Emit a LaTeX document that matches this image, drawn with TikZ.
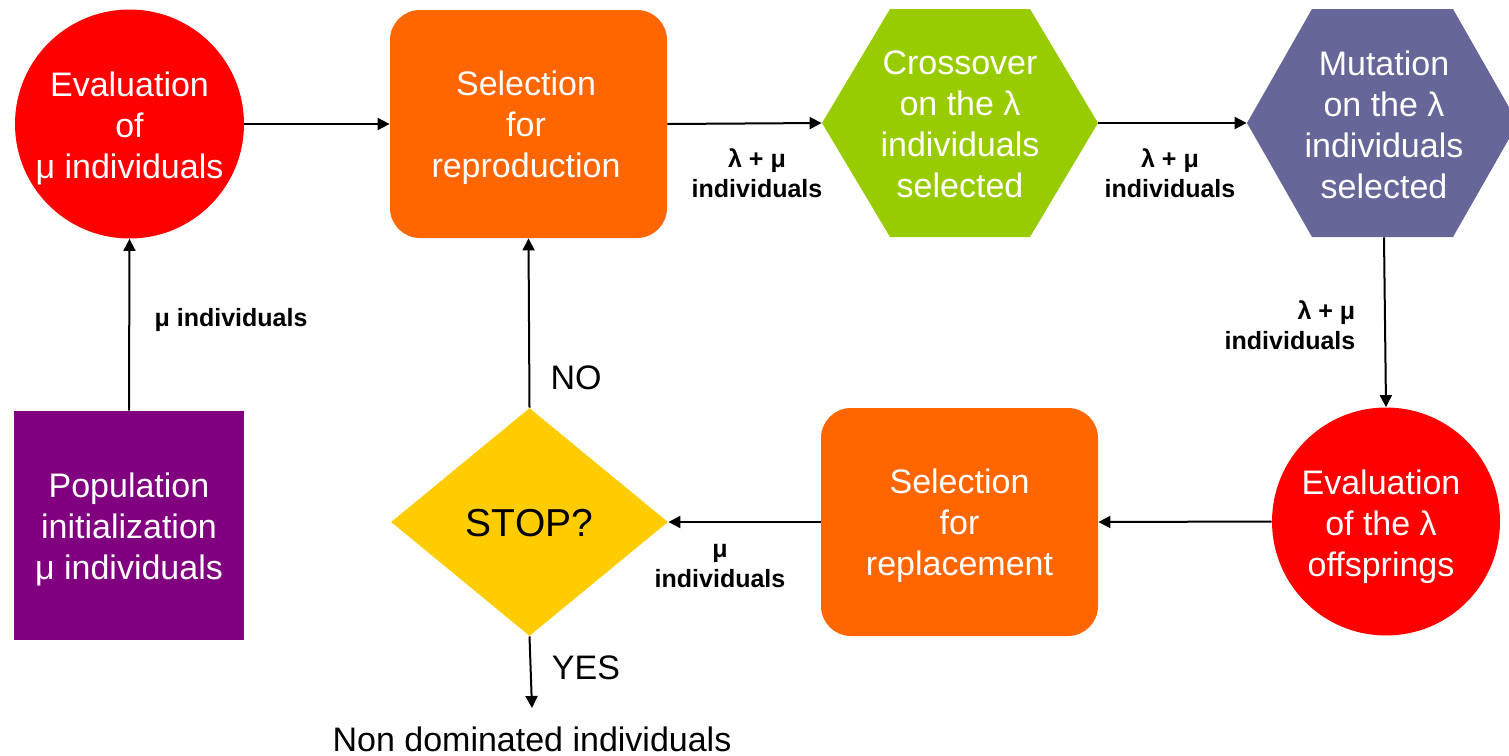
\documentclass[tikz,border=0pt]{standalone}
\usepackage{fontspec}
\setmainfont{Liberation Sans}
\usetikzlibrary{shapes.geometric,arrows.meta}
\definecolor{cred}{HTML}{FF0000}
\definecolor{corange}{HTML}{FF6600}
\definecolor{cgreen}{HTML}{99CC00}
\definecolor{cslate}{HTML}{666699}
\definecolor{cyellow}{HTML}{FFCC00}
\definecolor{cpurple}{HTML}{800080}
\tikzset{
  base/.style={text=white, font=\fontsize{17}{20.5}\selectfont, align=center, inner sep=0pt},
  txt/.style={base, yshift=-2pt},
  boxnode/.style={rectangle, minimum width=138.5pt, minimum height=114pt, rounded corners=15pt, fill=corange, inner sep=0pt},
  ghost/.style={rectangle, minimum width=138pt, minimum height=114pt, inner sep=0pt},
  lbl/.style={font=\bfseries\fontsize{12.5}{15}\selectfont, align=center, inner sep=0pt},
  plain/.style={font=\fontsize{17}{20.5}\selectfont, inner sep=0pt},
  arr/.style={-{Triangle[length=6pt,width=6pt]}, line width=1pt},
}
\begin{document}
\begin{tikzpicture}[x=0.5pt,y=-0.5pt]
\useasboundingbox (0,0) rectangle (1509,755);
% shapes
\node[circle, fill=cred, minimum size=114.5pt, inner sep=0pt] (eval1) at (129.5,124) {};
\node[txt] (t1) at (eval1) {Evaluation\\of\\μ individuals};
\node[boxnode] (sel1) at (528.5,124) {};
\node[txt] (t2) at (526,124) {Selection\\for\\reproduction};
\fill[cgreen] (822,123) -- (890,9) -- (1030,9) -- (1098,123) -- (1030,237) -- (890,237) -- cycle;
\node[ghost, minimum width=138pt] (cross) at (960,123) {};
\node[base] (t3) at (960,124.5) {Crossover\\on the λ\\individuals\\selected};
\fill[cslate] (1247,123) -- (1312,9) -- (1453,9) -- (1518,123) -- (1453,237) -- (1312,237) -- cycle;
\node[ghost, minimum width=137pt] (mut) at (1384,123) {};
\node[base] (t4) at (1384,124.5) {Mutation\\on the λ\\individuals\\selected};
\node[circle, fill=cred, minimum size=114pt, inner sep=0pt] (eval2) at (1386,521.5) {};
\node[txt] (t5) at (1381,522.5) {Evaluation\\of the λ\\offsprings};
\node[boxnode] (sel2) at (959.5,522) {};
\node[txt] (t6) at (sel2) {Selection\\for\\replacement};
\node[diamond, fill=cyellow, minimum width=138.5pt, minimum height=114pt, inner sep=0pt] (stop) at (529.5,522) {};
\node[plain, font=\fontsize{19.5}{23}\selectfont] (t7) at (529.5,523.5) {STOP?};
\node[rectangle, fill=cpurple, minimum width=115pt, minimum height=114.5pt, inner sep=0pt] (pop) at (129,525.5) {};
\node[txt] (t8) at (pop) {Population\\initialization\\μ individuals};
\node[plain] (nd) at (532,739) {Non dominated individuals};
\coordinate (ndtip) at (532,708);
% connectors
\draw[arr] (pop.north) -- (eval1.south);
\draw[arr] (eval1.east) -- (sel1.west);
\draw[arr] (sel1.east) -- (cross.west);
\draw[arr] (cross.east) -- (mut.west);
\draw[arr] (mut.south) -- (eval2.north);
\draw[arr] (eval2.west) -- (sel2.east);
\draw[arr] (sel2.west) -- (stop.east);
\draw[arr] (stop.north) -- (sel1.south);
\draw[arr] (stop.south) -- (ndtip);
% labels
\node[lbl] (l1) at (231,320) {μ individuals};
\node[lbl] (l2) at (757,173) {λ + μ\\individuals};
\node[lbl] (l3) at (1170,173) {λ + μ\\individuals};
\node[lbl, align=right] (l4) at (1290,325) {λ + μ\\individuals};
\node[lbl] (l5) at (720,566) {μ\\individuals};
\node[plain] (lno) at (576,378) {NO};
\node[plain] (lyes) at (586,668) {YES};
\end{tikzpicture}
\end{document}
